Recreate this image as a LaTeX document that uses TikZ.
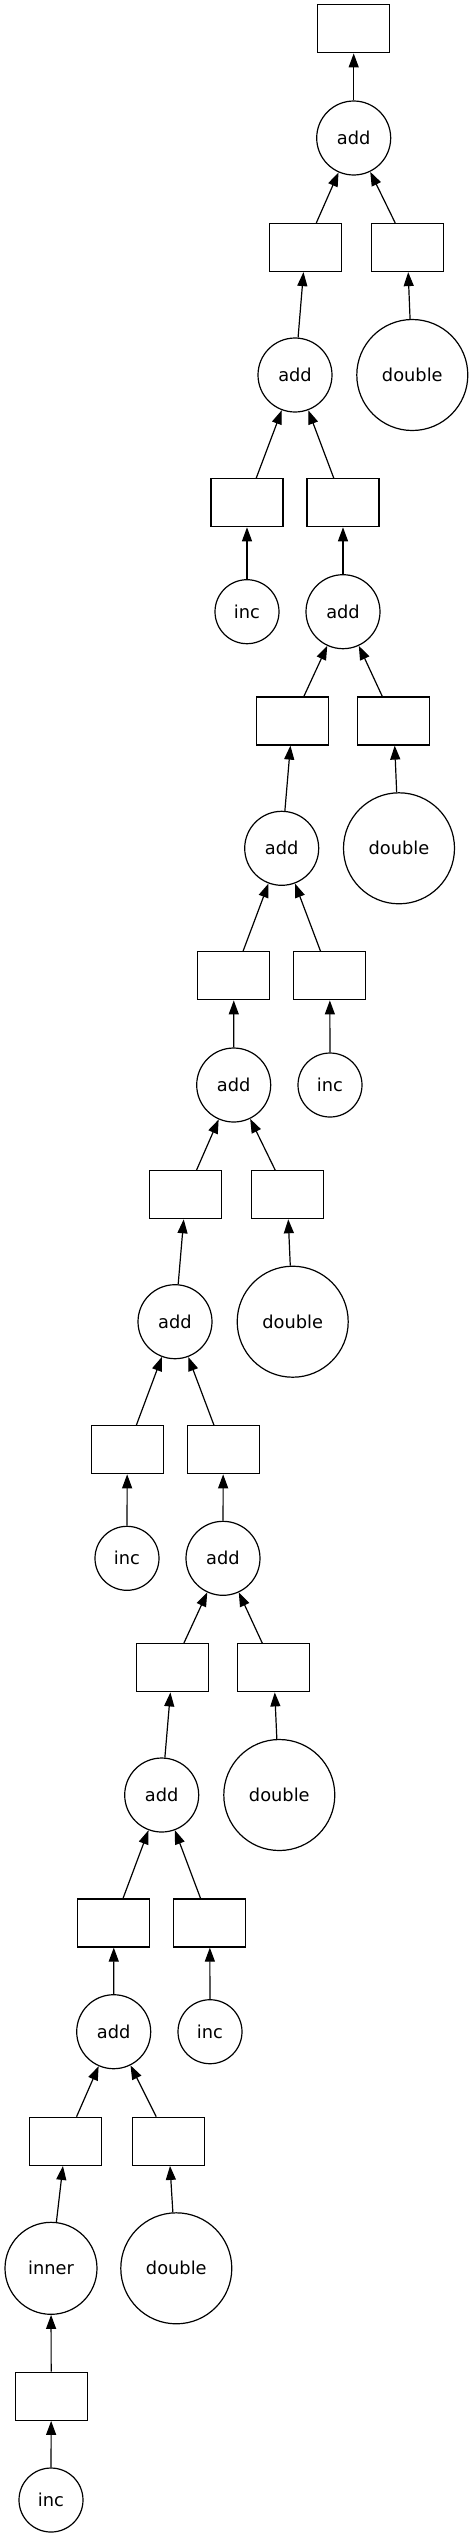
\documentclass[tikz,border=0pt]{standalone}
\usepackage{fontspec}
\setmainfont{DejaVu Sans}
\usetikzlibrary{arrows.meta}

\begin{document}
\begin{tikzpicture}[
  x=1pt, y=-1pt,
  data/.style={
    rectangle, draw, line width=1.2pt,
    minimum width=72pt, minimum height=48pt, inner sep=0pt
  },
  func/.style={
    circle, draw, line width=1.2pt, inner sep=0pt,
    font=\fontsize{17.8}{21}\selectfont
  },
  edge/.style={
    line width=1.2pt,
    -{Triangle[length=14pt, width=10pt]}
  }
]
  \useasboundingbox (0,0) rectangle (473,2538);

  % Output and first add
  \node (out) at (353.7,28.8) [data] {};
  \node (a1) at (353.7,138) [func, minimum size=74pt] {add};
  \node (b1l) at (305.5,247.5) [data] {};
  \node (b1r) at (407.2,247.5) [data] {};
  \node (a2) at (295,375) [func, minimum size=74pt] {add};
  \node (d1) at (412.3,375) [func, minimum size=111pt] {double};

  % Level 2
  \node (b2l) at (247,502.7) [data] {};
  \node (b2r) at (343,502.7) [data] {};
  \node (i1) at (247,611.7) [func, minimum size=64pt] {inc};
  \node (a3) at (343,611.7) [func, minimum size=74pt] {add};
  \node (b3l) at (292.5,721) [data] {};
  \node (b3r) at (393.7,721) [data] {};
  \node (a4) at (281.7,848.3) [func, minimum size=74pt] {add};
  \node (d2) at (399,848.3) [func, minimum size=111pt] {double};

  % Level 3
  \node (b4l) at (233.8,975.8) [data] {};
  \node (b4r) at (329.8,975.8) [data] {};
  \node (a5) at (233.7,1085) [func, minimum size=74pt] {add};
  \node (i2) at (330,1085) [func, minimum size=64pt] {inc};
  \node (b5l) at (185.8,1194.7) [data] {};
  \node (b5r) at (287.2,1194.7) [data] {};
  \node (a6) at (175,1321.7) [func, minimum size=74pt] {add};
  \node (d3) at (292.7,1321.7) [func, minimum size=111pt] {double};

  % Level 4
  \node (b6l) at (127.2,1449.7) [data] {};
  \node (b6r) at (223.2,1449.7) [data] {};
  \node (i3) at (127,1558.3) [func, minimum size=64pt] {inc};
  \node (a7) at (223,1558.3) [func, minimum size=74pt] {add};
  \node (b7l) at (172.5,1667.8) [data] {};
  \node (b7r) at (273.7,1667.8) [data] {};
  \node (a8) at (161.7,1795) [func, minimum size=74pt] {add};
  \node (d4) at (279.3,1795) [func, minimum size=111pt] {double};

  % Level 5
  \node (b8l) at (113.8,1923) [data] {};
  \node (b8r) at (209.8,1923) [data] {};
  \node (a9) at (113.7,2031.7) [func, minimum size=74pt] {add};
  \node (i4) at (210,2031.7) [func, minimum size=64pt] {inc};
  \node (b9l) at (65.8,2141.3) [data] {};
  \node (b9r) at (168.5,2141.3) [data] {};
  \node (inr) at (51,2268.3) [func, minimum size=92pt] {inner};
  \node (d5) at (176.3,2268.3) [func, minimum size=111pt] {double};

  % Bottom input
  \node (b10) at (51.2,2396.3) [data] {};
  \node (i5) at (51,2500) [func, minimum size=64pt] {inc};

  % Edges
  \draw[edge] (a1) -- (out);
  \draw[edge] (b1l) -- (a1);
  \draw[edge] (b1r) -- (a1);
  \draw[edge] (a2) -- (b1l);
  \draw[edge] (d1) -- (b1r);
  \draw[edge] (b2l) -- (a2);
  \draw[edge] (b2r) -- (a2);
  \draw[edge] (i1) -- (b2l);
  \draw[edge] (a3) -- (b2r);
  \draw[edge] (b3l) -- (a3);
  \draw[edge] (b3r) -- (a3);
  \draw[edge] (a4) -- (b3l);
  \draw[edge] (d2) -- (b3r);
  \draw[edge] (b4l) -- (a4);
  \draw[edge] (b4r) -- (a4);
  \draw[edge] (a5) -- (b4l);
  \draw[edge] (i2) -- (b4r);
  \draw[edge] (b5l) -- (a5);
  \draw[edge] (b5r) -- (a5);
  \draw[edge] (a6) -- (b5l);
  \draw[edge] (d3) -- (b5r);
  \draw[edge] (b6l) -- (a6);
  \draw[edge] (b6r) -- (a6);
  \draw[edge] (i3) -- (b6l);
  \draw[edge] (a7) -- (b6r);
  \draw[edge] (b7l) -- (a7);
  \draw[edge] (b7r) -- (a7);
  \draw[edge] (a8) -- (b7l);
  \draw[edge] (d4) -- (b7r);
  \draw[edge] (b8l) -- (a8);
  \draw[edge] (b8r) -- (a8);
  \draw[edge] (a9) -- (b8l);
  \draw[edge] (i4) -- (b8r);
  \draw[edge] (b9l) -- (a9);
  \draw[edge] (b9r) -- (a9);
  \draw[edge] (inr) -- (b9l);
  \draw[edge] (d5) -- (b9r);
  \draw[edge] (b10) -- (inr);
  \draw[edge] (i5) -- (b10);
\end{tikzpicture}
\end{document}
